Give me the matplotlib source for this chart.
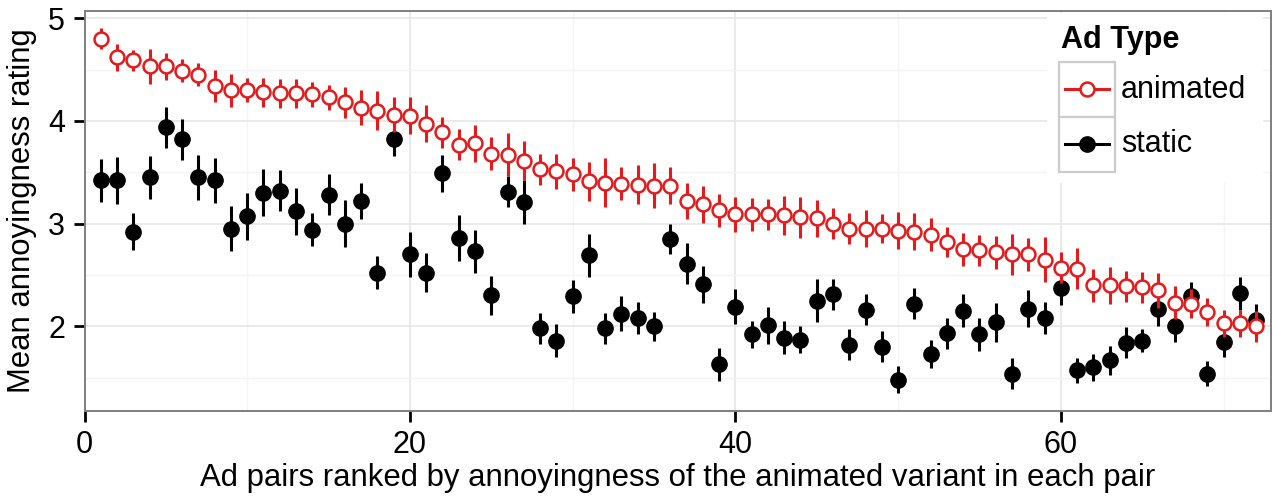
import numpy as np
import matplotlib
matplotlib.use('Agg')
import matplotlib.pyplot as plt
import matplotlib.transforms as mtransforms
from matplotlib.patches import Rectangle
from matplotlib.lines import Line2D

plt.rcParams['font.family'] = ['Liberation Sans', 'DejaVu Sans']
plt.rcParams['font.size'] = 22

W, H = 1272, 498

# ranks 1..72, sorted by the animated variant's mean
rank = np.arange(1, 73)

animated_mean = [4.80, 4.62, 4.59, 4.53, 4.53, 4.49, 4.45, 4.34, 4.30, 4.30,
                 4.28, 4.27, 4.27, 4.26, 4.23, 4.18, 4.13, 4.10, 4.06, 4.05,
                 3.97, 3.89, 3.77, 3.78, 3.68, 3.67, 3.61, 3.53, 3.51, 3.48,
                 3.41, 3.40, 3.39, 3.38, 3.37, 3.37, 3.22, 3.19, 3.13, 3.09,
                 3.09, 3.09, 3.08, 3.06, 3.05, 3.00, 2.95, 2.95, 2.95, 2.93,
                 2.92, 2.89, 2.82, 2.75, 2.74, 2.72, 2.70, 2.70, 2.65, 2.57,
                 2.56, 2.40, 2.40, 2.39, 2.38, 2.35, 2.23, 2.22, 2.14, 2.03,
                 2.03, 2.00]
animated_err = [0.10, 0.13, 0.10, 0.17, 0.13, 0.11, 0.11, 0.16, 0.16, 0.12,
                0.14, 0.14, 0.14, 0.12, 0.12, 0.15, 0.17, 0.19, 0.17, 0.18,
                0.18, 0.15, 0.15, 0.18, 0.16, 0.21, 0.19, 0.15, 0.17, 0.16,
                0.19, 0.24, 0.16, 0.19, 0.22, 0.18, 0.18, 0.18, 0.16, 0.17,
                0.16, 0.15, 0.19, 0.20, 0.18, 0.15, 0.15, 0.18, 0.14, 0.18,
                0.18, 0.16, 0.15, 0.16, 0.15, 0.16, 0.20, 0.16, 0.22, 0.15,
                0.20, 0.16, 0.18, 0.15, 0.15, 0.17, 0.16, 0.14, 0.14, 0.13,
                0.13, 0.15]

static_mean = [3.42, 3.42, 2.92, 3.45, 3.94, 3.82, 3.45, 3.42, 2.95, 3.07,
               3.30, 3.32, 3.12, 2.94, 3.28, 3.00, 3.22, 2.52, 3.82, 2.70,
               2.52, 3.49, 2.86, 2.73, 2.30, 3.31, 3.21, 1.98, 1.86, 2.29,
               2.69, 1.98, 2.12, 2.08, 2.00, 2.85, 2.61, 2.41, 1.63, 2.19,
               1.92, 2.01, 1.89, 1.87, 2.25, 2.31, 1.82, 2.16, 1.80, 1.48,
               2.22, 1.73, 1.93, 2.15, 1.92, 2.04, 1.54, 2.17, 2.08, 2.37,
               1.57, 1.60, 1.67, 1.84, 1.86, 2.17, 2.00, 2.29, 1.54, 1.85,
               2.32, 2.06]
static_err = [0.21, 0.23, 0.18, 0.21, 0.20, 0.20, 0.22, 0.22, 0.22, 0.23,
              0.23, 0.20, 0.23, 0.16, 0.20, 0.23, 0.18, 0.16, 0.16, 0.22,
              0.19, 0.18, 0.22, 0.21, 0.19, 0.15, 0.21, 0.15, 0.16, 0.16,
              0.21, 0.15, 0.17, 0.16, 0.14, 0.15, 0.20, 0.18, 0.16, 0.17,
              0.13, 0.18, 0.16, 0.13, 0.21, 0.15, 0.15, 0.15, 0.15, 0.13,
              0.15, 0.14, 0.15, 0.16, 0.16, 0.19, 0.15, 0.18, 0.16, 0.16,
              0.12, 0.13, 0.14, 0.15, 0.11, 0.17, 0.15, 0.14, 0.12, 0.15,
              0.16, 0.16]

RED = '#e41a1c'
labels = ['animated', 'static']

fig = plt.figure(figsize=(W / 100, H / 100), dpi=100)
ax = fig.add_axes([84.5 / W, 1 - 411 / H, (1270.7 - 84.5) / W, 400 / H])

ax.errorbar(rank, static_mean, yerr=static_err, fmt='o', color='black', ms=11,
            elinewidth=2.2, capsize=0, zorder=3)
ax.errorbar(rank, animated_mean, yerr=animated_err, fmt='o', color=RED, ms=10,
            mfc='white', mec=RED, mew=1.8, elinewidth=2.2, capsize=0, zorder=4)

ax.set_xlim(0, 72.9)
ax.set_ylim(1.175, 5.07)
ax.set_xticks([0, 20, 40, 60])
ax.set_xticks([10, 30, 50, 70], minor=True)
ax.set_yticks([2, 3, 4, 5])
ax.set_yticks([1.5, 2.5, 3.5, 4.5], minor=True)
ax.grid(which='major', color='#e6e6e6', lw=1.2, zorder=0)
ax.grid(which='minor', color='#f4f4f4', lw=1.0, zorder=0)
ax.set_axisbelow(True)
ax.tick_params(which='major', length=8, width=2, color='black', labelsize=22)
ax.tick_params(axis='x', pad=6)
ax.tick_params(axis='y', pad=6)
ax.tick_params(which='minor', length=0)
for s in ax.spines.values():
    s.set_color('#7f7f7f')
    s.set_linewidth(1.4)

ax.set_xlabel('Ad pairs ranked by annoyingness of the animated variant in each pair',
              fontsize=22.4, labelpad=2)
ax.set_ylabel('Mean annoyingness rating', fontsize=22.4, labelpad=8)

# legend drawn by hand, in image pixel coordinates (y downwards)
pix = mtransforms.Affine2D().scale(1 / W, -1 / H).translate(0, 1) + fig.transFigure
ax.add_patch(Rectangle((1047, 13), 216, 170, transform=pix, facecolor='white',
                       edgecolor='none', clip_on=False, zorder=5))
ax.text(1061, 40, 'Ad Type', transform=pix, fontsize=22, fontweight='bold',
        ha='left', va='center', zorder=6)
styles = [dict(color=RED, mfc='white', mec=RED, mew=1.8, ms=10),
          dict(color='black', mfc='black', mec='black', ms=11)]
for k, (lab, st) in enumerate(zip(labels, styles)):
    top = 62 + 55 * k
    ax.add_patch(Rectangle((1059, top), 56, 55, transform=pix, facecolor='white',
                           edgecolor='#cccccc', lw=1.6, clip_on=False, zorder=6))
    yc = top + 27.5
    ax.add_line(Line2D([1065, 1109], [yc, yc], transform=pix, lw=2.2,
                       color=st['color'], clip_on=False, zorder=7))
    ax.add_line(Line2D([1087], [yc], transform=pix, marker='o', ls='none',
                       color=st['color'], mfc=st['mfc'], mec=st['mec'],
                       mew=st.get('mew', 1), ms=st['ms'], clip_on=False, zorder=8))
    ax.text(1121, yc, lab, transform=pix, fontsize=22, ha='left', va='center', zorder=7)

fig.savefig('out.png', dpi=100)
